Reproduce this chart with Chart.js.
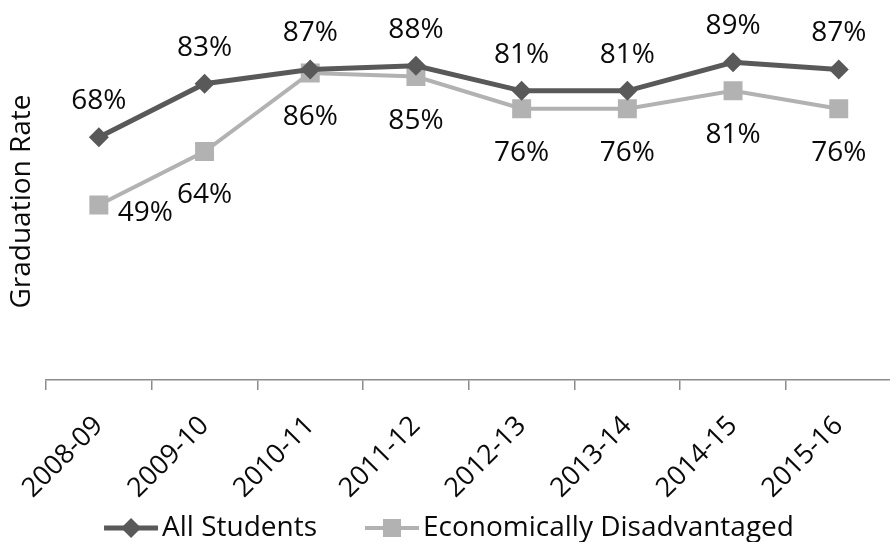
<!DOCTYPE html>
<html>
<head>
<meta charset="utf-8">
<script src="https://cdn.jsdelivr.net/npm/chart.js@4/dist/chart.umd.min.js"></script>
<style>
  html, body { margin: 0; padding: 0; background: #fff; overflow: hidden; }
  #wrap { width: 905px; height: 542px; }
</style>
</head>
<body>
<div id="wrap"><canvas id="rateChart"></canvas></div>
<script>
// School years and graduation rates (%)
const years = ['2008-09', '2009-10', '2010-11', '2011-12', '2012-13', '2013-14', '2014-15', '2015-16'];
const allStudents = [68, 83, 87, 88, 81, 81, 89, 87];
const econDisadvantaged = [49, 64, 86, 85, 76, 76, 81, 76];

const FONT = 'Open Sans';
const DARK = '#595959';
const LIGHT = '#b2b2b2';
const INK = '#0a0a0a';

// percentage labels next to each point
const valueLabels = {
    id: 'valueLabels',
    afterDatasetsDraw(chart) {
        const ctx = chart.ctx;
        ctx.save();
        ctx.font = '28px "' + FONT + '"';
        ctx.fillStyle = INK;
        ctx.textBaseline = 'middle';
        chart.data.datasets.forEach((ds, di) => {
            const meta = chart.getDatasetMeta(di);
            meta.data.forEach((pt, i) => {
                const text = ds.data[i] + '%';
                if (di === 0) {
                    ctx.textAlign = 'center';
                    ctx.fillText(text, pt.x, pt.y - 36);
                } else if (i === 0) {
                    ctx.textAlign = 'left';
                    ctx.fillText(text, pt.x + 19, pt.y + 8);
                } else {
                    ctx.textAlign = 'center';
                    ctx.fillText(text, pt.x, pt.y + 44);
                }
            });
        });
        ctx.restore();
    }
};

// legend with a short line through each marker, centred under the plot
const lineLegend = {
    id: 'lineLegend',
    afterDraw(chart) {
        const ctx = chart.ctx;
        const y = 528;
        const swatchW = 54, textGap = 4, itemGap = 48;
        ctx.save();
        ctx.font = '28px "' + FONT + '"';
        const widths = chart.data.datasets.map(ds => swatchW + textGap + ctx.measureText(ds.label).width);
        const total = widths.reduce((a, b) => a + b, 0) + itemGap * (widths.length - 1);
        let x = 449 - total / 2;
        chart.data.datasets.forEach((ds, i) => {
            const cx = x + swatchW / 2;
            ctx.strokeStyle = ds.borderColor;
            ctx.lineWidth = ds.borderWidth;
            ctx.beginPath();
            ctx.moveTo(x, y);
            ctx.lineTo(x + swatchW, y);
            ctx.stroke();
            ctx.fillStyle = ds.backgroundColor;
            ctx.beginPath();
            if (ds.pointStyle === 'rectRot') {
                ctx.moveTo(cx, y - 10); ctx.lineTo(cx + 10, y); ctx.lineTo(cx, y + 10); ctx.lineTo(cx - 10, y);
            } else {
                ctx.rect(cx - 9, y - 9, 18, 18);
            }
            ctx.closePath();
            ctx.fill();
            ctx.fillStyle = INK;
            ctx.textAlign = 'left';
            ctx.textBaseline = 'middle';
            ctx.fillText(ds.label, x + swatchW + textGap, y);
            x += widths[i] + itemGap;
        });
        ctx.restore();
    }
};

new Chart(document.getElementById('rateChart'), {
    type: 'line',
    data: {
        labels: years,
        datasets: [{
            label: 'All Students',
            data: allStudents,
            borderColor: DARK,
            backgroundColor: DARK,
            borderWidth: 5,
            pointStyle: 'rectRot',
            pointRadius: 10,
            pointBorderWidth: 0,
            tension: 0
        }, {
            label: 'Economically Disadvantaged',
            data: econDisadvantaged,
            borderColor: LIGHT,
            backgroundColor: LIGHT,
            borderWidth: 4,
            pointStyle: 'rect',
            pointRadius: 13.4,
            pointBorderWidth: 0,
            tension: 0
        }]
    },
    options: {
        responsive: true,
        maintainAspectRatio: false,
        animation: false,
        layout: { padding: { top: 23, right: 8, bottom: 42, left: 0 } },
        scales: {
            x: {
                offset: true,
                grid: { offset: true, drawOnChartArea: false, tickLength: 10, color: '#8c8c8c', lineWidth: 1.5 },
                border: { color: '#8c8c8c', width: 1.5 },
                ticks: { maxRotation: 45, minRotation: 45, color: INK, font: { family: FONT, size: 27 }, padding: 20 },
                afterFit: s => { s.height = 120; }
            },
            y: {
                min: 0,
                max: 100,
                ticks: { display: false },
                grid: { display: false },
                border: { display: false },
                title: { display: true, text: 'Graduation Rate', color: INK, font: { family: FONT, size: 28 }, padding: { top: 5, bottom: 0 } },
                afterFit: s => { s.width = 46; }
            }
        },
        plugins: {
            legend: { display: false },
            tooltip: { enabled: false }
        }
    },
    plugins: [valueLabels, lineLegend]
});
</script>
</body>
</html>
